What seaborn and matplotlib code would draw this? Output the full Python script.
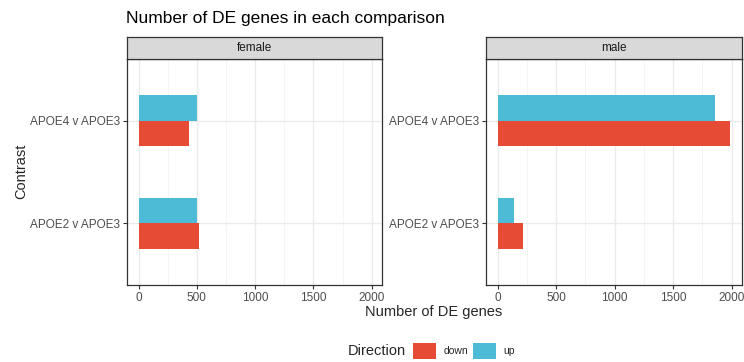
import matplotlib
matplotlib.use("Agg")
import matplotlib.pyplot as plt
import seaborn as sns
import pandas as pd
from matplotlib.patches import Patch

sns.set_theme(style="white")
plt.rcParams['font.family'] = ['Liberation Sans', 'DejaVu Sans']

# Data
sexes = ["female", "male"]
contrasts = ["APOE4 v APOE3", "APOE2 v APOE3"]
directions = ["down", "up"]
female_down = [430, 518]
female_up = [498, 501]
male_down = [1989, 213]
male_up = [1855, 139]
x_ticks = [0, 500, 1000, 1500, 2000]

rows = []
for sex, down, up in [("female", female_down, female_up), ("male", male_down, male_up)]:
    for c, d, u in zip(contrasts, down, up):
        rows.append({"Sex": sex, "Contrast": c, "Direction": "down", "n": d})
        rows.append({"Sex": sex, "Contrast": c, "Direction": "up", "n": u})
df = pd.DataFrame(rows)

palette = {"down": "#E64B35", "up": "#4DBBD5"}

W, H = 744, 362
fig = plt.figure(figsize=(W / 100, H / 100), dpi=100)

panels = {"female": (127, 382), "male": (486, 742)}
ptop, pbot, stop = 59, 285, 37
xmax_all = df["n"].max()
pad = 0.05 * xmax_all

for sex in sexes:
    l, r = panels[sex]
    ax = fig.add_axes([l / W, 1 - pbot / H, (r - l) / W, (pbot - ptop) / H])
    sub = df[df["Sex"] == sex]
    sns.barplot(data=sub, y="Contrast", x="n", hue="Direction", order=contrasts,
                hue_order=["up", "down"], palette=palette, orient="h", width=0.5,
                ax=ax, legend=False, saturation=1, edgecolor="none")
    ax.set_xlim(-pad, xmax_all + pad)
    ax.set_ylim(1.6, -0.6)
    ax.set_xticks(x_ticks)
    ax.set_xticks([250, 750, 1250, 1750], minor=True)
    ax.set_xticklabels([str(t) for t in x_ticks], color="#4D4D4D", fontsize=8.5)
    ax.set_yticks(range(len(contrasts)))
    ax.set_yticklabels(contrasts, color="#4D4D4D", fontsize=8.5)
    ax.grid(True, which="major", color="#EBEBEB", linewidth=1.0)
    ax.grid(True, which="minor", axis="x", color="#F4F4F4", linewidth=0.6)
    ax.set_axisbelow(True)
    ax.tick_params(axis="both", which="major", length=3, width=0.8, color="#333333",
                   bottom=True, left=True, pad=2)
    ax.tick_params(axis="both", which="minor", length=0)
    for s in ax.spines.values():
        s.set_color("#333333")
        s.set_linewidth(0.9)
    ax.set_xlabel("")
    ax.set_ylabel("")
    # strip
    sax = fig.add_axes([l / W, 1 - ptop / H, (r - l) / W, (ptop - stop) / H])
    sax.set_facecolor("#D9D9D9")
    sax.set_xticks([])
    sax.set_yticks([])
    for s in sax.spines.values():
        s.set_color("#333333")
        s.set_linewidth(0.9)
    sax.text(0.5, 0.5, sex, ha="center", va="center", fontsize=8.5, color="#1A1A1A",
             transform=sax.transAxes)

fig.text(126 / W, 1 - 19 / H, "Number of DE genes in each comparison", fontsize=12.5,
         ha="left", va="center", color="black")
fig.text(434 / W, 1 - 312 / H, "Number of DE genes", fontsize=10.5, ha="center", va="center")
fig.text(21 / W, 1 - 171 / H, "Contrast", fontsize=10.5, ha="center", va="center", rotation=90)

fig.text(406 / W, 1 - 351 / H, "Direction", fontsize=10.5, ha="right", va="center")
handles = [Patch(facecolor=palette[d], edgecolor="none", label=d) for d in directions]
fig.legend(handles=handles, loc="center left", bbox_to_anchor=(413 / W, 1 - 351 / H),
           ncol=2, frameon=False, fontsize=7.5, handlelength=2.2, handleheight=2.0,
           handletextpad=0.7, columnspacing=0.5, borderaxespad=0, borderpad=0)

fig.savefig("out.png", dpi=100)
